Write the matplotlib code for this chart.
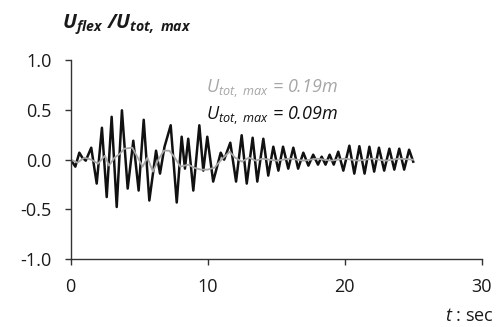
import numpy as np
import matplotlib
matplotlib.use("Agg")
import matplotlib.pyplot as plt

plt.rcParams['font.family'] = ['Open Sans', 'DejaVu Sans']
plt.rcParams['mathtext.fontset'] = 'custom'
plt.rcParams['mathtext.rm'] = 'Open Sans'
plt.rcParams['mathtext.it'] = 'Open Sans:italic'
plt.rcParams['mathtext.bf'] = 'Open Sans:bold'
plt.rcParams['mathtext.bfit'] = 'Open Sans:bold:italic'

# black curve, U_tot,max = 0.09 m (peaks and troughs)
t_black = [0.0, 0.34, 0.63, 0.85, 1.1, 1.5, 1.9, 2.28, 2.63, 2.99, 3.36, 3.74,
           4.16, 4.57, 4.96, 5.33, 5.74, 6.23, 6.52, 6.85, 7.3, 7.74, 8.1, 8.34,
           8.58, 8.95, 9.39, 9.68, 9.97, 10.4, 10.95, 11.2, 11.65, 12.07, 12.48,
           12.85, 13.28, 13.62, 14.06, 14.42, 14.79, 15.16, 15.5, 15.88, 16.25,
           16.6, 16.98, 17.35, 17.7, 18.05, 18.32, 18.6, 18.9, 19.2, 19.53, 19.9,
           20.34, 20.7, 21.07, 21.45, 21.8, 22.15, 22.5, 22.88, 23.26, 23.62,
           23.98, 24.34, 24.7, 25.0]
u_black = [0.0, -0.07, 0.07, 0.02, -0.01, 0.12, -0.24, 0.32, -0.375, 0.43, -0.475, 0.495,
           -0.29, 0.19, -0.31, 0.40, -0.41, 0.09, -0.14, 0.13, 0.345, -0.43, 0.23, -0.09,
           0.21, -0.31, 0.345, -0.11, 0.23, -0.22, 0.07, 0.0, 0.17, -0.22, 0.245,
           -0.24, 0.22, -0.22, 0.21, -0.16, 0.13, -0.11, 0.13, -0.09, 0.12,
           -0.09, 0.07, -0.06, 0.05, -0.05, 0.03, -0.05, 0.05, -0.05, 0.08, -0.11,
           0.14, -0.14, 0.135, -0.14, 0.13, -0.12, 0.12, -0.11, 0.11, -0.1,
           0.11, -0.1, 0.1, -0.02]

# gray curve, U_tot,max = 0.19 m
t_gray = [0.0, 0.5, 1.0, 1.5, 2.0, 2.5, 2.8, 3.2, 3.6, 3.9, 4.5, 5.25, 5.6, 6.0,
          6.4, 6.8, 7.2, 7.6, 8.0, 8.6, 9.0, 9.5, 10.0, 10.5, 11.0, 11.6, 12.0,
          12.5, 13.0, 13.5, 14.0, 15.0, 16.0, 17.0, 18.0, 19.0, 20.0, 21.0,
          22.0, 23.0, 24.0, 25.0]
u_gray = [0.0, -0.03, 0.02, 0.0, -0.04, 0.04, -0.06, 0.02, 0.06, 0.11, 0.12, -0.07, 0.02, -0.12,
          0.0, 0.09, 0.09, 0.02, -0.07, -0.05, -0.08, -0.1, -0.1, -0.08, 0.0, 0.08, 0.02,
          -0.02, 0.02, -0.01, 0.01, -0.01, 0.01, -0.01, 0.01, -0.01, 0.01, -0.01,
          0.01, -0.01, 0.01, 0.0]

x_ticks = [0, 10, 20, 30]
y_ticks = [-1.0, -0.5, 0.0, 0.5, 1.0]

fig = plt.figure(figsize=(5.02, 3.27), dpi=100)
ax = fig.add_axes([0.1408, 0.207, 0.8188, 0.6095])

ax.plot(t_black, u_black, color='#111111', lw=1.8, solid_joinstyle='round')
ax.plot(t_gray, u_gray, color='#a6a6a6', lw=1.3, solid_joinstyle='round')

ax.set_xlim(0, 30)
ax.set_ylim(-1.0, 1.0)
ax.set_xticks(x_ticks)
ax.set_yticks(y_ticks)
ax.set_yticklabels(['%.1f' % v for v in y_ticks])

for s in ['top', 'right']:
    ax.spines[s].set_visible(False)
for s in ['left', 'bottom']:
    ax.spines[s].set_color('#333333')
    ax.spines[s].set_linewidth(1.0)
ax.tick_params(direction='out', length=4.5, width=1.0, color='#333333',
               labelsize=13, pad=9, labelcolor='#1a1a1a')

fig.text(0.123, 0.925, r'$\mathbfit{U}_{\mathbfit{flex}}\ \mathbfit{/U}_{\mathbfit{tot,\ max}}$',
         fontsize=14.5, ha='left', va='center', color='#1a1a1a')

ax.text(0.33, 0.855, r'$\mathit{U}_{\mathit{tot,\ max}}$ = 0.19m', transform=ax.transAxes,
        fontsize=13, style='italic', color='#a6a6a6', ha='left', va='center')
ax.text(0.33, 0.72, r'$\mathit{U}_{\mathit{tot,\ max}}$ = 0.09m', transform=ax.transAxes,
        fontsize=13, style='italic', color='#111111', ha='left', va='center')

fig.text(0.984, 0.035, r'$\mathit{t}$ : sec', fontsize=13, ha='right', va='center', color='#1a1a1a')

fig.savefig('out.png', dpi=100)
